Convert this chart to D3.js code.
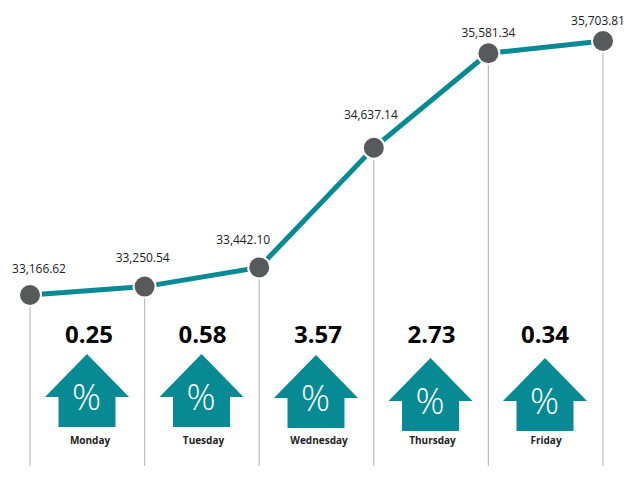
<!DOCTYPE html>
<html><head><meta charset="utf-8">
<script src="https://cdnjs.cloudflare.com/ajax/libs/d3/7.8.5/d3.min.js"></script>
<style>html,body{margin:0;padding:0;background:#fff}svg{display:block}</style>
</head><body><svg id="c" width="640" height="480"></svg>
<script>
const days = ["Monday","Tuesday","Wednesday","Thursday","Friday"];
const indexValues = [33166.62,33250.54,33442.10,34637.14,35581.34,35703.81];
const indexLabels = ["33,166.62","33,250.54","33,442.10","34,637.14","35,581.34","35,703.81"];
const percentChanges = ["0.25","0.58","3.57","2.73","0.34"];

const svg = d3.select("#c");
const teal = "#078a93", grey = "#58595b";
const x = d3.scaleLinear().domain([0,5]).range([30,603]);
const y = d3.scaleLinear().domain([33166.62,35703.81]).range([295,41]);
const font = "'Open Sans','Noto Sans',sans-serif";

// vertical guide lines
svg.selectAll("line.g").data(indexValues).join("line").attr("class","g")
  .attr("x1",(d,i)=>x(i)).attr("x2",(d,i)=>x(i))
  .attr("y1",d=>y(d)).attr("y2",466)
  .attr("stroke","#bcbcbc").attr("stroke-width",1.2);

// main line
svg.append("path").datum(indexValues)
  .attr("d",d3.line().x((d,i)=>x(i)).y(d=>y(d)))
  .attr("fill","none").attr("stroke",teal).attr("stroke-width",5);

// markers with white halo gap
svg.selectAll("circle.m").data(indexValues).join("circle").attr("class","m")
  .attr("cx",(d,i)=>x(i)).attr("cy",d=>y(d)).attr("r",10)
  .attr("fill",grey).attr("stroke","#fff").attr("stroke-width",4)
  .attr("paint-order","stroke");

// value labels
const labelDx = [9,-2,-16,-3,0,-5], labelDy = [-22,-25,-23,-29,-16,-16];
svg.selectAll("text.v").data(indexLabels).join("text").attr("class","v")
  .attr("x",(d,i)=>x(i)+labelDx[i]).attr("y",(d,i)=>y(indexValues[i])+labelDy[i])
  .attr("text-anchor","middle").attr("font-family",font).attr("font-size",12)
  .attr("letter-spacing","-0.05").attr("fill","#222").text(d=>d);

// day groups
const band = d3.scaleLinear().domain([0,4]).range([87,545]);
const arrowShape = d3.line()([[0,0],[42,43],[28.5,43],[28.5,73],[-28.5,73],[-28.5,43],[-42,43]])+"Z";
const g = svg.selectAll("g.d").data(days).join("g").attr("class","d")
  .attr("transform",(d,i)=>`translate(${band(i)},0)`);
const drop = [0,0,1,4,4], textDx = [2,1,2,1,0];
g.append("text").attr("x",(d,i)=>textDx[i]).attr("y",343).attr("text-anchor","middle")
  .attr("font-family",font).attr("font-weight",700).attr("font-size",24).attr("fill","#000")
  .text((d,i)=>percentChanges[i]);
g.append("path").attr("d",arrowShape).attr("fill",teal)
  .attr("transform",(d,i)=>`translate(0,${354+drop[i]})`);
g.append("text").attr("y",(d,i)=>410+drop[i]).attr("x",-0.5).attr("text-anchor","middle")
  .attr("font-family",font).attr("font-size",36).attr("font-weight",300).attr("fill","#fff").text("%");
g.append("text").attr("x",(d,i)=>textDx[i]+1).attr("y",444).attr("text-anchor","middle")
  .attr("font-family",font).attr("font-weight",700).attr("font-size",10).attr("fill","#222").text(d=>d);
</script></body></html>
